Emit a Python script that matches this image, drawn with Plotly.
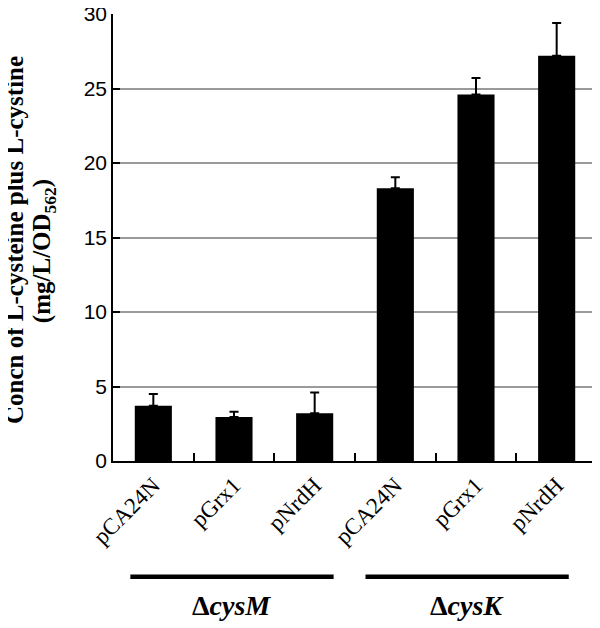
import plotly.graph_objects as go

strains = ["pCA24N", "pGrx1", "pNrdH", "pCA24N", "pGrx1", "pNrdH"]
values = [3.7, 2.95, 3.2, 18.3, 24.6, 27.2]
errors = [0.8, 0.35, 1.4, 0.75, 1.1, 2.2]
groups = ["Δ<i>cysM</i>", "Δ<i>cysK</i>"]
group_members = [[0, 1, 2], [3, 4, 5]]
yticks = [0, 5, 10, 15, 20, 25, 30]

xpos = list(range(len(strains)))

fig = go.Figure()
fig.add_trace(go.Bar(
    x=xpos, y=values, width=0.46,
    marker=dict(color="black", line=dict(width=0)),
    error_y=dict(type="data", array=errors, arrayminus=[0] * len(errors),
                 symmetric=False, color="black", thickness=2, width=4.5),
    showlegend=False,
))

serif = "Liberation Serif, Times New Roman, serif"
sans = "Liberation Sans, Arial, sans-serif"

# page body has an 8px margin, so the figure is shrunk by 8px to fit the window
fig.update_layout(
    width=592, height=620,
    margin=dict(l=105, r=3, t=6, b=167),
    paper_bgcolor="white", plot_bgcolor="white",
    xaxis=dict(
        range=[-0.5, len(strains) - 0.5],
        tickvals=xpos, ticktext=strains, tickangle=-45,
        ticks="", showgrid=False, zeroline=False,
        showline=True, linecolor="black", linewidth=1.5,
        tickfont=dict(family=serif, size=23, color="black"),
        minor=dict(tickvals=[i + 0.5 for i in xpos], ticks="inside",
                   ticklen=8, tickcolor="black", tickwidth=1.5, showgrid=False),
        automargin=False,
    ),
    yaxis=dict(
        range=[0, 30], tickvals=yticks,
        ticks="inside", ticklen=7, tickcolor="black", tickwidth=1.5,
        showgrid=True, gridcolor="#9a9a9a", gridwidth=1.5,
        zeroline=False, showline=True, linecolor="black", linewidth=1.5,
        tickfont=dict(family=sans, size=21, color="black"),
        ticklabeloverflow="allow",
        automargin=False,
    ),
)

# y-axis title (two lines)
fig.add_annotation(text="<b>Concn of L-cysteine plus L-cystine</b>",
                   xref="paper", yref="paper", x=-0.202, y=0.495,
                   xanchor="center", yanchor="middle", textangle=-90,
                   showarrow=False, font=dict(family=serif, size=25, color="black"))
fig.add_annotation(text="<b>(mg/L/OD<sub>562</sub>)</b>",
                   xref="paper", yref="paper", x=-0.143, y=0.469,
                   xanchor="center", yanchor="middle", textangle=-90,
                   showarrow=False, font=dict(family=serif, size=25, color="black"))

# group bars and labels
offsets = [-0.025, -0.11]
for g, members, off in zip(groups, group_members, offsets):
    c = sum(members) / len(members) + off
    fig.add_shape(type="line", xref="x", yref="paper",
                  x0=c - 1.26, x1=c + 1.26, y0=-0.259, y1=-0.259,
                  line=dict(color="black", width=4.5))
    fig.add_annotation(text="<b>" + g + "</b>", xref="x", yref="paper",
                       x=c, y=-0.324, xanchor="center", yanchor="middle",
                       showarrow=False, font=dict(family=serif, size=28, color="black"))

fig.write_html("out.html")
